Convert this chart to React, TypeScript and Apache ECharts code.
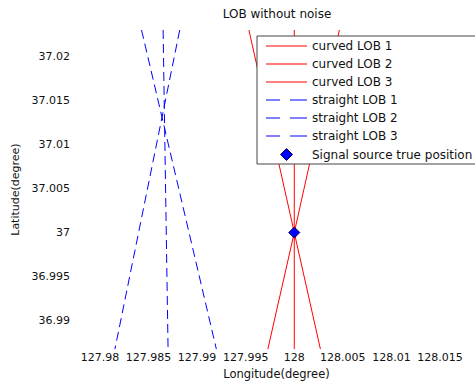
import React, { useEffect, useRef } from "react";
import * as echarts from "echarts";

const xTicks = [127.98, 127.985, 127.99, 127.995, 128, 128.005, 128.01, 128.015];
const yTicks = [36.99, 36.995, 37, 37.005, 37.01, 37.015, 37.02];
const xRange = [127.97774, 128.0186];
const yRange = [36.98679, 37.02296];

const curvedLob1 = [[127.99533, 37.02296], [128.0, 37.0], [128.00269, 36.98679]];
const curvedLob2 = [[128.0, 37.02296], [128.0, 37.0], [128.0, 36.98679]];
const curvedLob3 = [[128.00464, 37.02296], [128.0, 37.0], [127.99728, 36.98679]];
const straightLob1 = [[127.98428, 37.02296], [127.99198, 36.98679]];
const straightLob2 = [[127.9865, 37.02296], [127.98701, 36.98679]];
const straightLob3 = [[127.98821, 37.02296], [127.98154, 36.98679]];
const truePosition = [[128.0, 37.0]];

const curvedNames = ["curved LOB 1", "curved LOB 2", "curved LOB 3"];
const straightNames = ["straight LOB 1", "straight LOB 2", "straight LOB 3"];
const markerName = "Signal source true position";

const FONT = "DejaVu Sans";
const RED = "#ff0000";
const BLUE = "#0000ff";
const SOLID_ICON = "path://M0,0h41v1h-41z";
const DASH_ICON = "path://M0,0h14v1h-14zM24,0h17v1h-17z";
const DIAMOND_ICON = "path://M6,0L12,6L6,12L0,6Z";

export default function App() {
  const ref = useRef<HTMLDivElement>(null);
  useEffect(() => {
    document.body.style.margin = "0";
    const chart = echarts.init(ref.current!, null, { renderer: "svg" });
    const fmt = (v: number) => String(parseFloat(Number(v).toFixed(4)));
    const curved = [curvedLob1, curvedLob2, curvedLob3];
    const straight = [straightLob1, straightLob2, straightLob3];
    const series: any[] = [];
    curved.forEach((d, i) =>
      series.push({
        name: curvedNames[i],
        type: "line",
        data: d,
        symbol: "none",
        lineStyle: { color: RED, width: 1 },
        itemStyle: { color: RED },
        z: 2,
      })
    );
    straight.forEach((d, i) =>
      series.push({
        name: straightNames[i],
        type: "line",
        data: d,
        symbol: "none",
        lineStyle: { color: BLUE, width: 1, type: [9, 5] },
        itemStyle: { color: BLUE },
        z: 2,
      })
    );
    series.push({
      name: markerName,
      type: "scatter",
      data: truePosition,
      symbol: "diamond",
      symbolSize: 11,
      itemStyle: { color: BLUE, borderColor: "#00004d", borderWidth: 1, opacity: 1 },
      z: 3,
    });
    chart.setOption({
      animation: false,
      title: {
        text: "LOB without noise",
        left: 277,
        top: 8,
        textAlign: "center",
        padding: 0,
        textStyle: { fontFamily: FONT, fontSize: 12, fontWeight: "normal", color: "#111" },
      },
      grid: { left: 78, top: 30, width: 398, height: 323, containLabel: false },
      xAxis: {
        type: "value",
        min: xRange[0],
        max: xRange[1],
        name: "Longitude(degree)",
        nameLocation: "middle",
        nameGap: 18,
        nameTextStyle: { fontFamily: FONT, fontSize: 11.5, color: "#111" },
        axisLine: { show: false },
        axisTick: { show: false },
        splitLine: { show: false },
        axisLabel: {
          customValues: xTicks,
          formatter: fmt,
          margin: 3,
          fontFamily: FONT,
          fontSize: 11,
          color: "#111",
        },
      },
      yAxis: {
        type: "value",
        min: yRange[0],
        max: yRange[1],
        name: "Latitude(degree)",
        nameLocation: "middle",
        nameGap: 51,
        nameTextStyle: { fontFamily: FONT, fontSize: 11, color: "#111" },
        axisLine: { show: false },
        axisTick: { show: false },
        splitLine: { show: false },
        axisLabel: {
          customValues: yTicks,
          formatter: fmt,
          margin: 8,
          fontFamily: FONT,
          fontSize: 11,
          color: "#111",
        },
      },
      legend: {
        orient: "vertical",
        left: 257,
        top: 36,
        padding: [4, 4, 3, 9],
        itemWidth: 41,
        itemHeight: 12,
        itemGap: 6,
        symbolKeepAspect: true,
        backgroundColor: "#ffffff",
        borderColor: "#444444",
        borderWidth: 1,
        textStyle: { fontFamily: FONT, fontSize: 12, color: "#111" },
        itemStyle: { borderWidth: 0 },
        data: [
          ...curvedNames.map((n) => ({ name: n, icon: SOLID_ICON })),
          ...straightNames.map((n) => ({ name: n, icon: DASH_ICON })),
          {
            name: markerName,
            icon: DIAMOND_ICON,
            itemStyle: { borderWidth: 1, borderColor: "#00004d", opacity: 1 },
          },
        ],
      },
      series,
    });
    return () => chart.dispose();
  }, []);
  return <div ref={ref} style={{ width: 475, height: 385 }} />;
}
